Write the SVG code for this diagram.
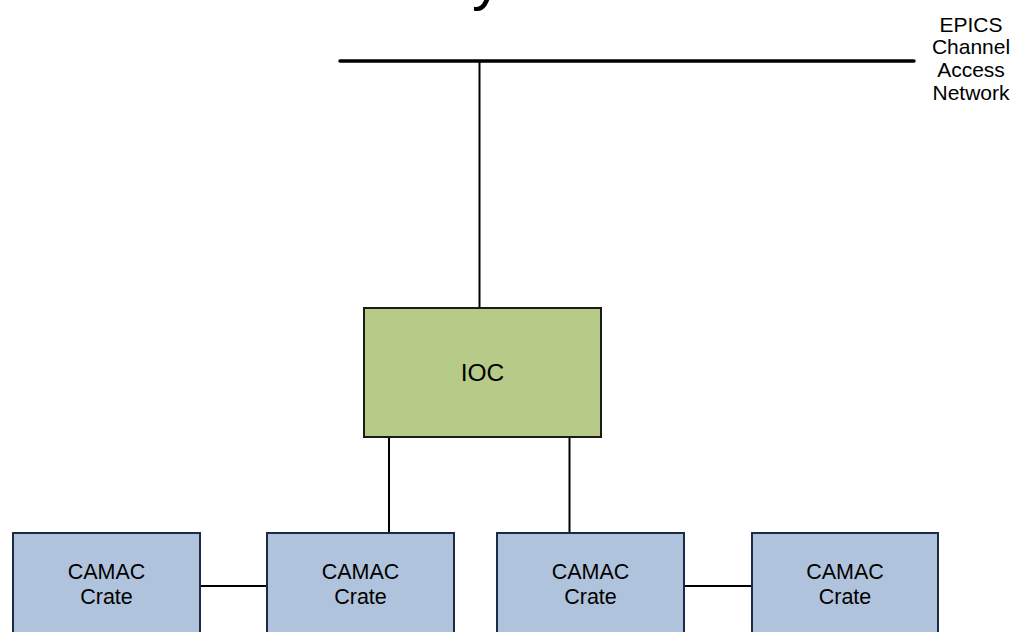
<svg xmlns="http://www.w3.org/2000/svg" width="1013" height="632" viewBox="0 0 1013 632">
<style>
  text { font-family: "Liberation Sans", Arial, sans-serif; fill: #000; }
  .lbl { font-size: 21.5px; text-anchor: middle; }
  .net { font-size: 21px; text-anchor: middle; }
  .crate { fill: #b0c3dc; stroke: #1c2b45; stroke-width: 2; }
  .ioc { fill: #b7cb88; stroke: #1a1a1a; stroke-width: 2; }
  .wire { stroke: #000; stroke-width: 2; fill: none; }
  .bus { stroke: #000; stroke-width: 3.5; stroke-linecap: round; fill: none; }
</style>
<rect width="1013" height="632" fill="#fff"/>
<g id="title"><text x="472" y="-1.5" style="font-size:60px">y</text></g>
<g id="connectors">
  <line class="bus" x1="340" y1="61" x2="914" y2="61"/>
  <line class="wire" x1="479.5" y1="61" x2="479.5" y2="308"/>
  <line class="wire" x1="389" y1="437" x2="389" y2="533"/>
  <line class="wire" x1="569.5" y1="437" x2="569.5" y2="533"/>
  <line class="wire" x1="200" y1="586" x2="267" y2="586"/>
  <line class="wire" x1="684" y1="586" x2="752" y2="586"/>
</g>
<g id="network-label">
  <text class="net" x="971" y="31.5">EPICS</text>
  <text class="net" x="971" y="54">Channel</text>
  <text class="net" x="971" y="76.5">Access</text>
  <text class="net" x="971" y="99.5">Network</text>
</g>
<g id="ioc">
  <rect class="ioc" x="364" y="308" width="237" height="129"/>
  <text class="lbl" x="482.5" y="380.5" style="font-size:24.5px">IOC</text>
</g>
<g id="crate1">
  <rect class="crate" x="13" y="533" width="187" height="110"/>
  <text class="lbl" x="106.5" y="578.5">CAMAC</text>
  <text class="lbl" x="106.5" y="604">Crate</text>
</g>
<g id="crate2">
  <rect class="crate" x="267" y="533" width="187" height="110"/>
  <text class="lbl" x="360.5" y="578.5">CAMAC</text>
  <text class="lbl" x="360.5" y="604">Crate</text>
</g>
<g id="crate3">
  <rect class="crate" x="497" y="533" width="187" height="110"/>
  <text class="lbl" x="590.5" y="578.5">CAMAC</text>
  <text class="lbl" x="590.5" y="604">Crate</text>
</g>
<g id="crate4">
  <rect class="crate" x="752" y="533" width="186" height="110"/>
  <text class="lbl" x="845" y="578.5">CAMAC</text>
  <text class="lbl" x="845" y="604">Crate</text>
</g>
</svg>
